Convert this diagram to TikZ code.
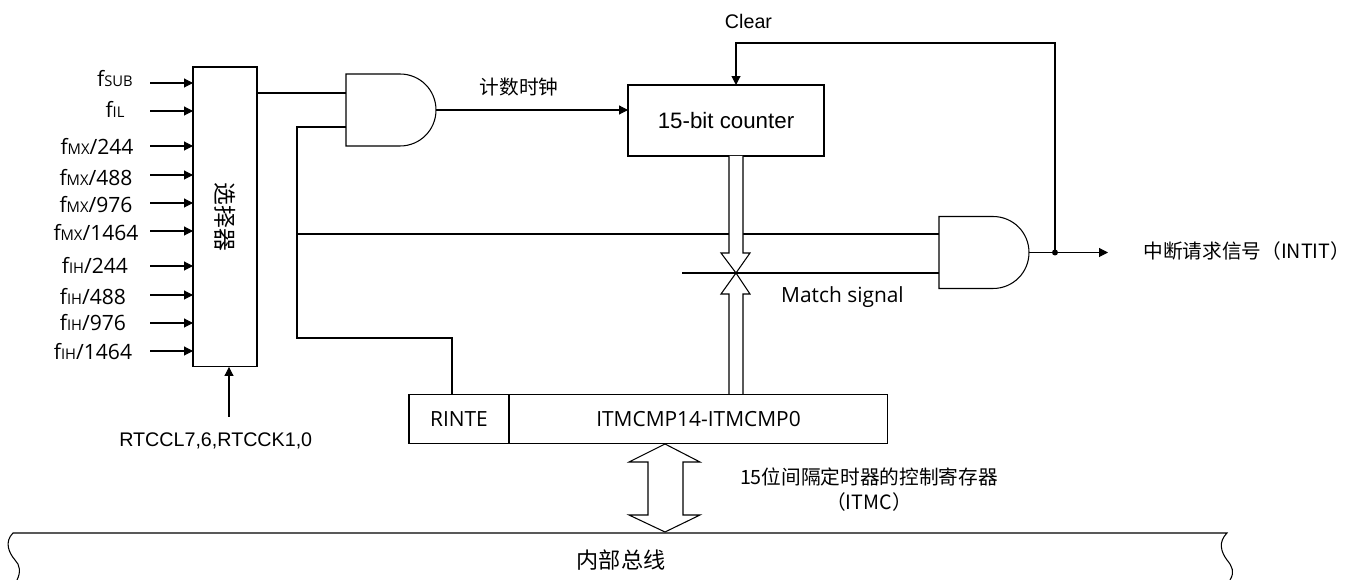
\documentclass[tikz,border=0pt]{standalone}
\usepackage{fontspec}
\setmainfont{Liberation Sans}
\newfontfamily\cjk{Noto Sans CJK SC}
\newfontfamily\ui{Open Sans}
\usetikzlibrary{arrows.meta}
\newcommand{\fclk}[2]{f{\fontsize{8.4}{10}\selectfont #1}#2}
\begin{document}
\begin{tikzpicture}[
    x=0.02cm, y=-0.02cm,
    box/.style={rectangle, draw, line width=0.6pt, outer sep=0pt, inner sep=0pt},
    wire/.style={line width=0.6pt},
    sig/.style={wire, -{Triangle[length=5pt,width=5pt]}},
    busarrow/.style={line width=0.6pt, fill=white},
    clk/.style={font=\ui\fontsize{12}{14}\selectfont},
    ann/.style={font=\fontsize{11.2}{13}\selectfont},
    uitext/.style={font=\ui\fontsize{11.9}{14}\selectfont},
    zh/.style={font=\cjk\fontsize{11.2}{13}\selectfont},
    andgate/.pic={
        \draw[wire] (0,-36) -- (54,-36) .. controls (74,-36) and (90,-20) .. (90,0)
            .. controls (90,20) and (74,36) .. (54,36) -- (0,36) -- cycle;
        \coordinate (-w) at (0,0);
        \coordinate (-e) at (90,0);
    },
]
\useasboundingbox (0,0) rectangle (1353,580);

% Selector and its clock inputs
\node[box, minimum width=1.28cm, minimum height=6cm] (sel) at (225,217) {};
\node[zh, font=\cjk\fontsize{13}{15}\selectfont, rotate=-90] (seltext) at (225,217) {选择器};

\node[clk] (fsub) at (115,79) {\fclk{SUB}{}};
\coordinate (inA) at (150,83);
\draw[sig] (inA) -- (inA -| sel.west);
\node[clk] (fil) at (115,109) {\fclk{IL}{}};
\coordinate (inB) at (150,111);
\draw[sig] (inB) -- (inB -| sel.west);
\node[clk] (fmxa) at (97,146) {\fclk{MX}{/244}};
\coordinate (inC) at (150,146);
\draw[sig] (inC) -- (inC -| sel.west);
\node[clk] (fmxb) at (96,178) {\fclk{MX}{/488}};
\coordinate (inD) at (150,175);
\draw[sig] (inD) -- (inD -| sel.west);
\node[clk] (fmxc) at (96,205) {\fclk{MX}{/976}};
\coordinate (inE) at (150,203);
\draw[sig] (inE) -- (inE -| sel.west);
\node[clk] (fmxd) at (96,233) {\fclk{MX}{/1464}};
\coordinate (inF) at (150,231);
\draw[sig] (inF) -- (inF -| sel.west);
\node[clk] (fiha) at (95,265) {\fclk{IH}{/244}};
\coordinate (inG) at (150,266);
\draw[sig] (inG) -- (inG -| sel.west);
\node[clk] (fihb) at (93,297) {\fclk{IH}{/488}};
\coordinate (inH) at (150,295);
\draw[sig] (inH) -- (inH -| sel.west);
\node[clk] (fihc) at (93,323) {\fclk{IH}{/976}};
\coordinate (inI) at (150,323);
\draw[sig] (inI) -- (inI -| sel.west);
\node[clk] (fihd) at (93,352) {\fclk{IH}{/1464}};
\coordinate (inJ) at (150,351);
\draw[sig] (inJ) -- (inJ -| sel.west);

\node[ann, anchor=west, inner sep=0pt] (rtc) at (119,441) {RTCCL7,6,RTCCK1,0};
\coordinate (selctl) at (229,417);
\draw[sig] (selctl) -- (selctl |- sel.south);

% Gates, counter and register
\pic (gateA) at (346,110) {andgate};
\pic (gateB) at (939,252.5) {andgate};
\node[box, minimum width=3.92cm, minimum height=1.42cm, font=\fontsize{12.7}{15}\selectfont] (counter) at (726,120.5) {15-bit counter};
\node[box, uitext, minimum width=2cm, minimum height=0.98cm] (rinte) at (459,419) {RINTE};
\node[box, uitext, minimum width=7.58cm, minimum height=0.98cm] (itmcmp) at (698.5,419) {ITMCMP14-ITMCMP0};

% Wiring
\coordinate (selout) at (257,93);
\coordinate (gAlow) at (346,127);
\coordinate (rail) at (297,234);
\coordinate (railend) at (452,338);
\draw[wire] (selout) -- (selout -| gateA-w);
\draw[wire] (gAlow) -- (gAlow -| rail) -- (rail |- railend) -- (railend) -- (railend |- rinte.north);
\draw[wire] (rail) -- (rail -| gateB-w);
\draw[sig] (gateA-e) -- (gateA-e -| counter.west);
\node[zh] (clklabel) at (519,87) {计数时钟};

% Output and feedback
\coordinate (tap) at (1055,252.5);
\coordinate (outend) at (1108,252.5);
\coordinate (fb) at (1055,43);
\coordinate (clrin) at (736,85);
\draw[sig] (gateB-e) -- (outend);
\draw[sig] (tap) -- (fb) -- (fb -| clrin) -- (clrin);
\fill (tap) circle[radius=3];
\node[ann] (clr) at (748.5,21) {Clear};
\node[zh, anchor=west, inner sep=0pt] (intit) at (1143,251) {中断请求信号（INTIT）};

% Bus arrows meeting at the match point
\coordinate (cross) at (736,273);
\fill[white] (729,156) rectangle (743,253);
\draw[busarrow] (729,156) -- (729,253) -- (721,253) -- (cross) -- (750,253) -- (743,253) -- (743,156);
\draw[busarrow] (729,394) -- (729,294) -- (721,294) -- (cross) -- (750,294) -- (743,294) -- (743,394);
\draw[wire] (682,273) -- (cross) -- (cross -| gateB-w);
\node[uitext] (match) at (842.5,297) {Match signal};

% Register to internal bus
\draw[busarrow] (665,444) -- (700,462) -- (683,462) -- (683,515) -- (700,515) -- (665,532)
    -- (629,515) -- (648,515) -- (648,462) -- (629,462) -- cycle;
\node[zh] (itmc) at (869,477) {15位间隔定时器的控制寄存器};
\node[zh] (itmcb) at (869,502) {（ITMC）};

% Internal bus
\draw[wire] (17,580) .. controls (21,572) and (20,565) .. (15,560) .. controls (9,553) and (4,542) .. (13,533)
    -- (1227,533) .. controls (1218,542) and (1221,552) .. (1227,560) .. controls (1232,566) and (1235,572) .. (1230,580);
\node[zh, font=\cjk\fontsize{12.6}{15}\selectfont] (ibus) at (621,560) {内部总线};

\end{tikzpicture}
\end{document}
